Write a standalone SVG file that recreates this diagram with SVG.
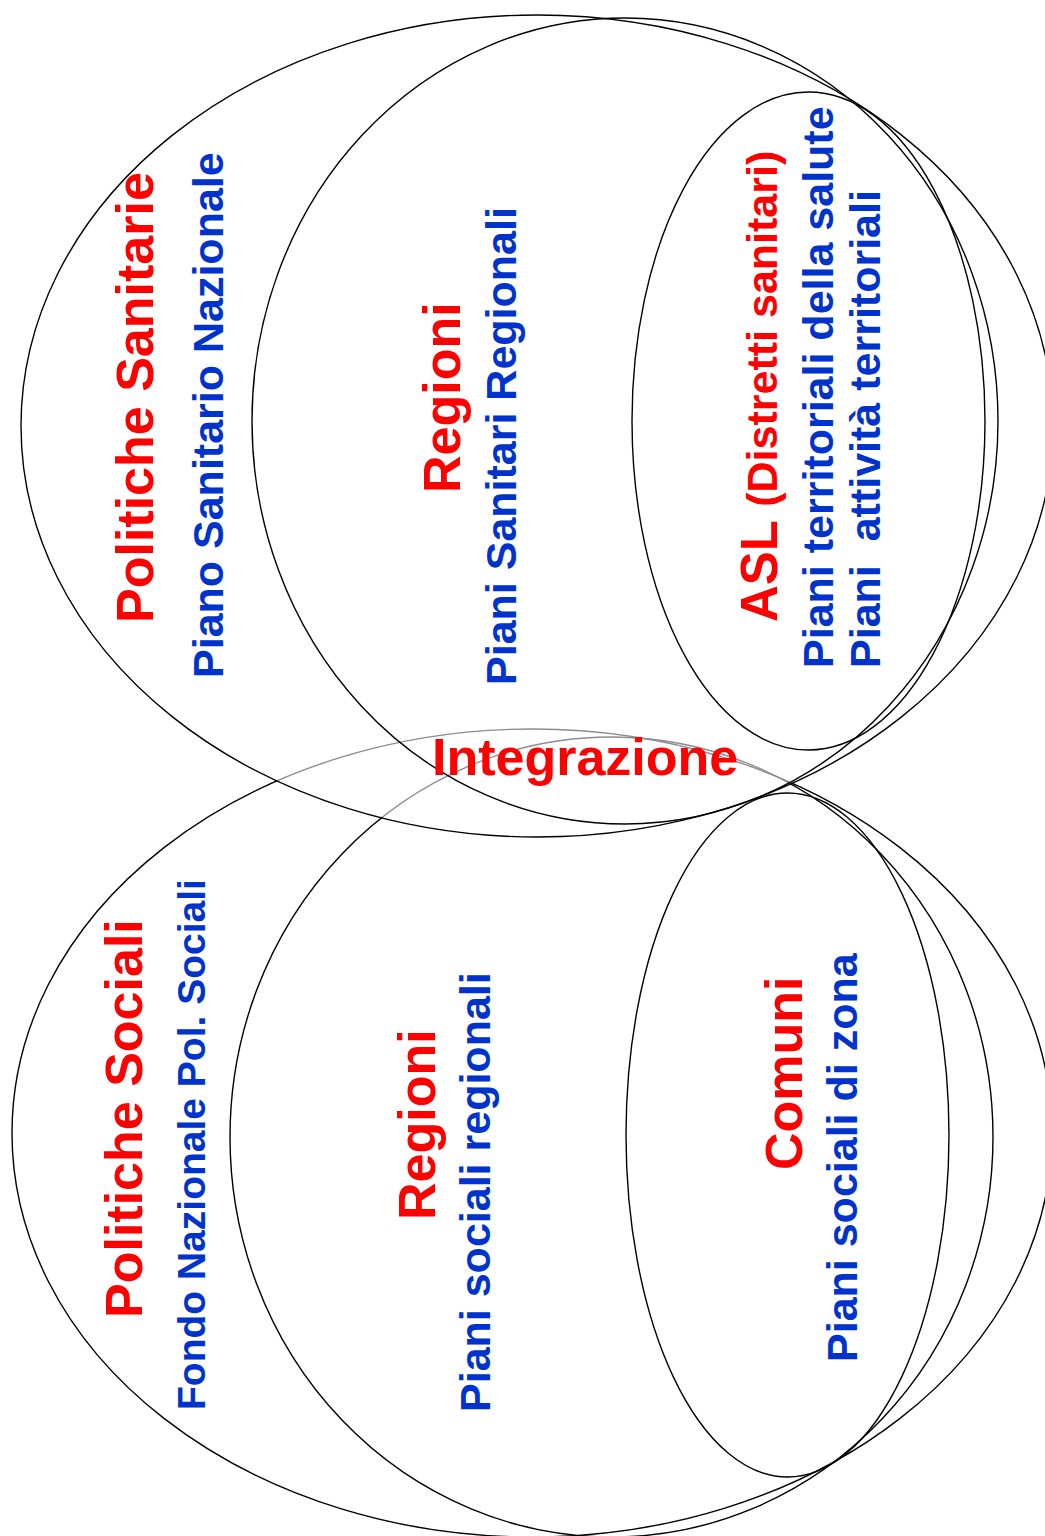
<svg xmlns="http://www.w3.org/2000/svg" width="1045" height="1536" viewBox="0 0 1045 1536">
<style>
.e{fill:none;stroke:#000;stroke-width:1.4}
.veil{fill:#fff;fill-opacity:0.55;stroke:#000;stroke-width:1.4}
text{font-family:"Liberation Sans",Arial,sans-serif;font-weight:bold}
.r{fill:#ff0000;font-size:52px}
.b{fill:#0033cc;font-size:43px}
</style>
<rect width="1045" height="1536" fill="#fff"/>
<g id="sociali-group">
  <ellipse id="politiche-sociali" class="e" cx="532" cy="1133" rx="520" ry="404"/>
  <ellipse id="regioni-sociali" class="e" cx="611.5" cy="1137" rx="381.5" ry="400"/>
  <ellipse id="comuni" class="e" cx="787.5" cy="1135" rx="161.5" ry="342"/>
</g>
<g id="sanitarie-group">
  <ellipse id="politiche-sanitarie" class="veil" cx="537" cy="426" rx="516" ry="411"/>
  <ellipse id="regioni-sanitarie" class="e" cx="625" cy="421" rx="373" ry="403"/>
  <ellipse id="asl" class="e" cx="808.5" cy="421" rx="176.5" ry="329"/>
</g>
<g id="labels">
  <text class="r" transform="translate(153,623) rotate(-90)">Politiche Sanitarie</text>
  <text class="b" transform="translate(223,678) rotate(-90)">Piano Sanitario Nazionale</text>
  <text class="r" transform="translate(460,493) rotate(-90)">Regioni</text>
  <text class="b" transform="translate(516,685) rotate(-90)">Piani Sanitari Regionali</text>
  <text class="r" transform="translate(777,622) rotate(-90)"><tspan style="font-size:51px">ASL </tspan><tspan style="font-size:43px">(Distretti sanitari)</tspan></text>
  <text class="b" transform="translate(833,668) rotate(-90)">Piani territoriali della salute</text>
  <text class="b" transform="translate(880,668) rotate(-90)" xml:space="preserve">Piani  attività territoriali</text>
  <text class="r" x="432" y="775">Integrazione</text>
  <text class="r" transform="translate(142,1318) rotate(-90)">Politiche Sociali</text>
  <text class="b" style="font-size:39px" transform="translate(205,1410) rotate(-90)">Fondo Nazionale Pol. Sociali</text>
  <text class="r" transform="translate(435,1220) rotate(-90)">Regioni</text>
  <text class="b" transform="translate(490,1412) rotate(-90)">Piani sociali regionali</text>
  <text class="r" transform="translate(802,1170) rotate(-90)">Comuni</text>
  <text class="b" transform="translate(857,1362) rotate(-90)">Piani sociali di zona</text>
</g>
</svg>
